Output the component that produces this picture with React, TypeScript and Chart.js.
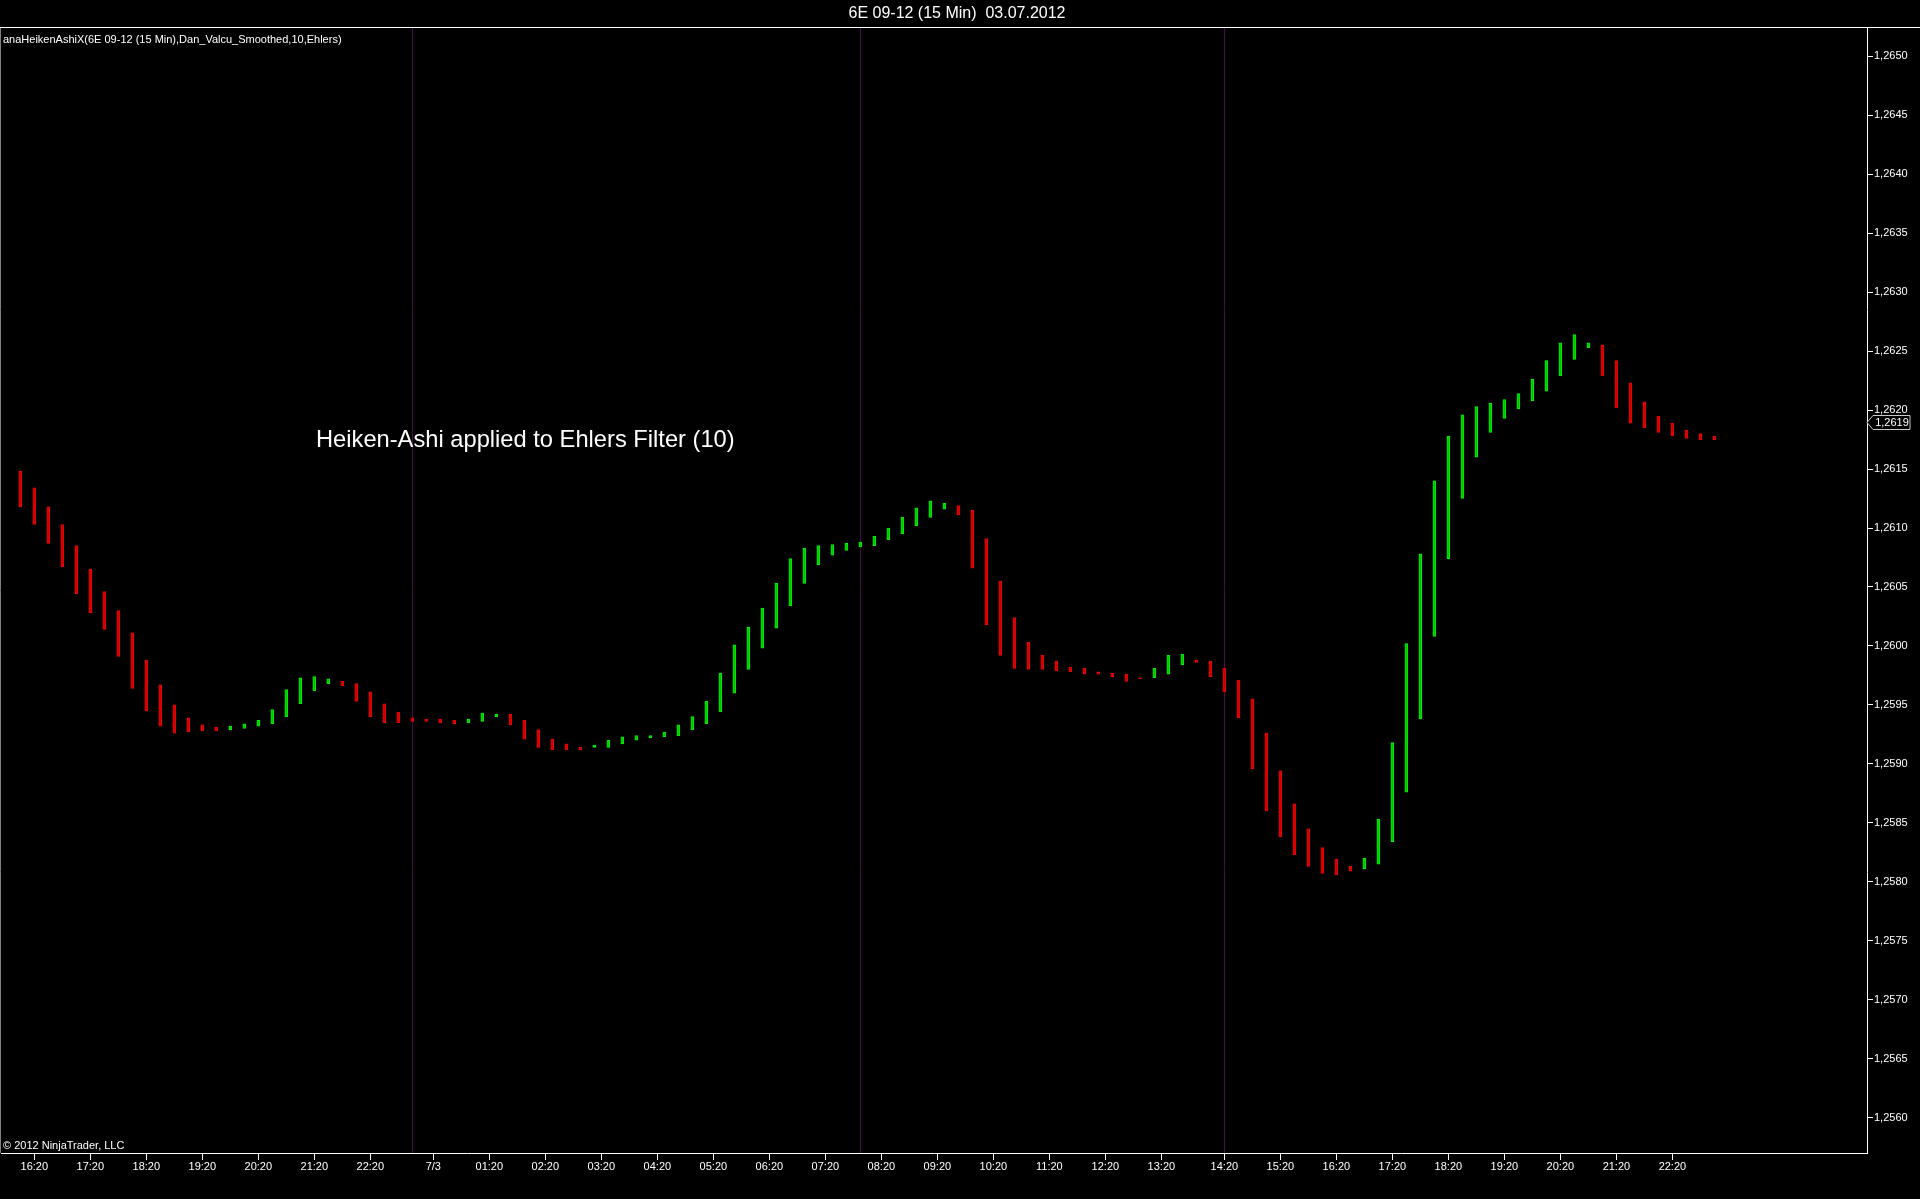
import { useEffect, useRef } from "react"
import { Chart, registerables } from "chart.js"

Chart.register(...registerables)

// Heiken-Ashi bodies, one pair per 15 min bar
const barOpen = [
  1.26148, 1.26134, 1.26118, 1.26103, 1.26085, 1.26065, 1.26046, 1.2603, 1.26011, 1.25988,
  1.25967, 1.2595, 1.25939, 1.25933, 1.25931, 1.25929, 1.2593, 1.25932, 1.25934, 1.2594,
  1.25951, 1.25962, 1.25968, 1.2597, 1.25968, 1.25961, 1.25951, 1.25944, 1.25939, 1.25938,
  1.25938, 1.25937, 1.25935, 1.25936, 1.2594, 1.25942, 1.25937, 1.25929, 1.25921, 1.25917,
  1.25914, 1.25914, 1.25914, 1.25917, 1.2592, 1.25922, 1.25923, 1.25924, 1.25929, 1.25934,
  1.25944, 1.2596, 1.2598, 1.25998, 1.26015, 1.26034, 1.26053, 1.26069, 1.26077, 1.26081,
  1.26084, 1.26085, 1.2609, 1.26095, 1.26102, 1.26109, 1.26116, 1.26119, 1.26115, 1.26091,
  1.26055, 1.26024, 1.26003, 1.25992, 1.25987, 1.25982, 1.25981, 1.25978, 1.25977, 1.25976,
  1.25973, 1.25973, 1.25976, 1.25984, 1.25988, 1.25987, 1.25981, 1.25971, 1.25955, 1.25926,
  1.25894, 1.25866, 1.25845, 1.25829, 1.25819, 1.25813, 1.25811, 1.25815, 1.25834, 1.25876,
  1.25938, 1.26008, 1.26074, 1.26125, 1.2616, 1.26181, 1.26193, 1.26201, 1.26208, 1.26216,
  1.26229, 1.26243, 1.26253, 1.26255, 1.26242, 1.26223, 1.26207, 1.26195, 1.26189, 1.26183,
  1.2618, 1.26178,
]
const barClose = [
  1.26118, 1.26103, 1.26087, 1.26067, 1.26044, 1.26028, 1.26014, 1.25991, 1.25964, 1.25945,
  1.25932, 1.25926, 1.25927, 1.25928, 1.25928, 1.25932, 1.25934, 1.25937, 1.25946, 1.25963,
  1.25973, 1.25974, 1.25972, 1.25966, 1.25953, 1.2594, 1.25935, 1.25935, 1.25936, 1.25936,
  1.25935, 1.25934, 1.25938, 1.25943, 1.25942, 1.25933, 1.25921, 1.25914, 1.25912, 1.25912,
  1.25912, 1.25916, 1.2592, 1.25923, 1.25924, 1.25924, 1.25927, 1.25933, 1.2594, 1.25953,
  1.25977, 1.26001, 1.26016, 1.26032, 1.26053, 1.26074, 1.26083, 1.26085, 1.26086, 1.26087,
  1.26088, 1.26093, 1.261, 1.26109, 1.26117, 1.26123, 1.26121, 1.26111, 1.26066, 1.26018,
  1.25992, 1.25981, 1.2598, 1.2598, 1.25979, 1.25978, 1.25976, 1.25976, 1.25974, 1.2597,
  1.25972, 1.25981, 1.25992, 1.25993, 1.25986, 1.25974, 1.25961, 1.25939, 1.25896, 1.2586,
  1.25838, 1.25823, 1.25813, 1.25807, 1.25806, 1.25809, 1.2582, 1.25853, 1.25918, 1.26002,
  1.26078, 1.2614, 1.26178, 1.26196, 1.26203, 1.26206, 1.26209, 1.26214, 1.26226, 1.26242,
  1.26257, 1.26264, 1.26257, 1.26229, 1.26202, 1.26189, 1.26185, 1.26181, 1.26178, 1.26176,
  1.26175, 1.26175,
]

// time axis: bar position of each label
const xTickBars = [
  1, 5, 9, 13, 17, 21, 25, 29.5, 33.5, 37.5, 41.5, 45.5, 49.5, 53.5, 57.5, 61.5, 65.5, 69.5,
  73.5, 77.5, 81.5, 86, 90, 94, 98, 102, 106, 110, 114, 118,
]
const xTickLabels = [
  "16:20", "17:20", "18:20", "19:20", "20:20", "21:20", "22:20", "7/3", "01:20", "02:20",
  "03:20", "04:20", "05:20", "06:20", "07:20", "08:20", "09:20", "10:20", "11:20", "12:20",
  "13:20", "14:20", "15:20", "16:20", "17:20", "18:20", "19:20", "20:20", "21:20", "22:20",
]
const sessionBreaks = [28, 60, 86]
const lastPrice = 1.2619

const chartTitle = "6E 09-12 (15 Min)  03.07.2012"
const indicatorLabel = "anaHeikenAshiX(6E 09-12 (15 Min),Dan_Valcu_Smoothed,10,Ehlers)"
const noteText = "Heiken-Ashi applied to Ehlers Filter (10)"
const copyrightText = "© 2012 NinjaTrader, LLC"

const FONT = '"Liberation Sans", Arial, sans-serif'
const fmt = (v: number) => v.toFixed(4).replace(".", ",")

const overlay = {
  id: "overlay",
  beforeDatasetsDraw(chart: any) {
    const { ctx, chartArea, scales } = chart
    ctx.save()
    ctx.strokeStyle = "#4b0a4b"
    ctx.lineWidth = 1
    sessionBreaks.forEach((b) => {
      const x = Math.round(scales.x.getPixelForValue(b)) + 0.5
      ctx.beginPath()
      ctx.moveTo(x, chartArea.top)
      ctx.lineTo(x, chartArea.bottom)
      ctx.stroke()
    })
    ctx.restore()
  },
  afterDraw(chart: any) {
    const { ctx, chartArea, scales, width } = chart
    ctx.save()

    // title bar
    ctx.fillStyle = "#ffffff"
    ctx.font = `16px ${FONT}`
    ctx.textAlign = "center"
    ctx.textBaseline = "middle"
    ctx.fillText(chartTitle, 957, 14)
    ctx.strokeStyle = "#ffffff"
    ctx.lineWidth = 1
    ctx.beginPath()
    ctx.moveTo(0, 27.5)
    ctx.lineTo(width, 27.5)
    ctx.stroke()

    // left panel border
    ctx.strokeStyle = "#808080"
    ctx.beginPath()
    ctx.moveTo(0.5, chartArea.top)
    ctx.lineTo(0.5, chartArea.bottom)
    ctx.stroke()

    ctx.textAlign = "left"
    ctx.font = `11px ${FONT}`
    ctx.fillText(indicatorLabel, 3, 40)
    ctx.fillText(copyrightText, 3, chartArea.bottom - 7)

    ctx.font = `23.7px ${FONT}`
    ctx.fillText(noteText, 316, 440)

    // last price marker on the axis
    const y = Math.round(scales.y.getPixelForValue(lastPrice)) + 0.5
    const x0 = chartArea.right
    ctx.fillStyle = "#000000"
    ctx.strokeStyle = "#c8c8c8"
    ctx.beginPath()
    ctx.moveTo(x0, y)
    ctx.lineTo(x0 + 6, y - 7)
    ctx.lineTo(x0 + 43, y - 7)
    ctx.lineTo(x0 + 43, y + 7)
    ctx.lineTo(x0 + 6, y + 7)
    ctx.closePath()
    ctx.fill()
    ctx.stroke()
    ctx.fillStyle = "#ffffff"
    ctx.font = `11px ${FONT}`
    ctx.textAlign = "center"
    ctx.fillText(fmt(lastPrice), x0 + 25, y)

    ctx.restore()
  },
}

export default function App() {
  const canvasRef = useRef<HTMLCanvasElement>(null)
  const chartRef = useRef<Chart | null>(null)

  useEffect(() => {
    document.body.style.margin = "0"
    document.body.style.background = "#000"
    if (!canvasRef.current) return
    if (chartRef.current) chartRef.current.destroy()

    const up = barOpen.map((o, i) => barClose[i] >= o)

    chartRef.current = new Chart(canvasRef.current, {
      type: "bar",
      data: {
        datasets: [
          {
            label: "HA",
            data: barOpen.map((o, i) => ({ x: i, y: [o, barClose[i]] })) as any,
            backgroundColor: up.map((u) => (u ? "#00c400" : "#c80000")),
            borderColor: up.map((u) => (u ? "#00f000" : "#f00000")),
            borderWidth: 1,
            borderSkipped: false,
            barThickness: 3,
            grouped: false,
          },
        ],
      },
      options: {
        responsive: false,
        animation: false,
        layout: { padding: { top: 28, left: 1, right: 0, bottom: 0 } },
        plugins: {
          legend: { display: false },
          tooltip: { enabled: false },
        },
        scales: {
          x: {
            type: "linear",
            min: -1.38,
            max: 131.9,
            offset: false,
            afterFit: (s: any) => {
              s.height = 46
            },
            afterBuildTicks: (s: any) => {
              s.ticks = xTickBars.map((v) => ({ value: v }))
            },
            ticks: {
              autoSkip: false,
              maxRotation: 0,
              color: "#ffffff",
              padding: 0,
              font: { family: FONT, size: 11 },
              callback: (_v: any, i: number) => xTickLabels[i],
            },
            grid: {
              offset: false,
              drawOnChartArea: false,
              drawTicks: true,
              tickLength: 7,
              color: "#ffffff",
            },
            border: { display: true, color: "#ffffff", width: 1 },
          },
          y: {
            type: "linear",
            position: "right",
            min: 1.2557,
            max: 1.26524,
            afterFit: (s: any) => {
              s.width = 53
            },
            ticks: {
              stepSize: 0.0005,
              includeBounds: false,
              color: "#ffffff",
              padding: 1,
              font: { family: FONT, size: 11 },
              callback: (v: any) => fmt(Number(v)),
            },
            grid: { drawOnChartArea: false, drawTicks: true, tickLength: 6, color: "#ffffff" },
            border: { display: true, color: "#ffffff", width: 1 },
          },
        },
      },
      plugins: [overlay],
    })

    return () => {
      if (chartRef.current) chartRef.current.destroy()
    }
  }, [])

  return (
    <canvas
      ref={canvasRef}
      width={1920}
      height={1199}
      style={{ display: "block", background: "#000" }}
    />
  )
}
